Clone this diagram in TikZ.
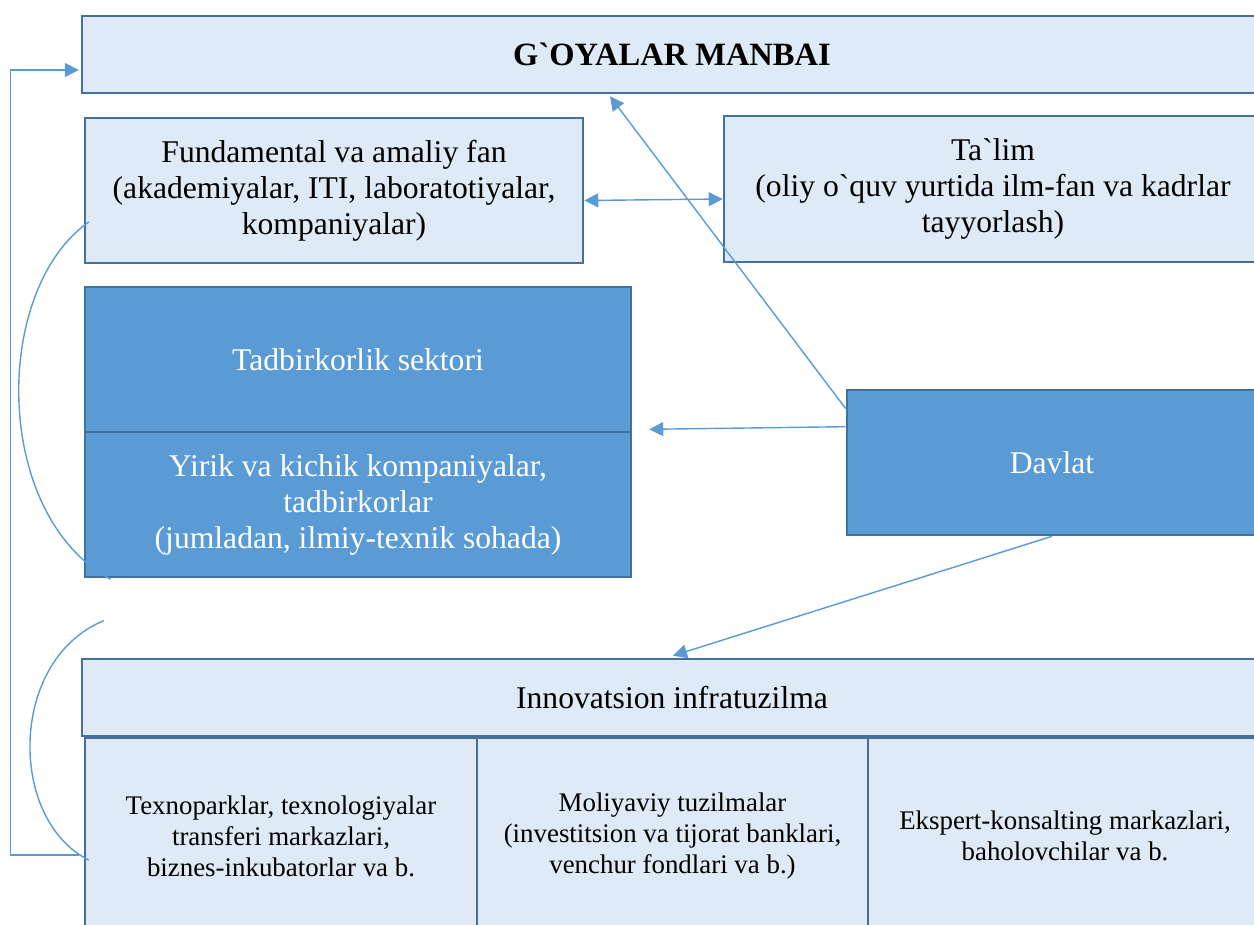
\documentclass[tikz,border=0pt]{standalone}
\usepackage{fontspec}
\setmainfont{Liberation Serif}[Ligatures = TeXOff]
\usetikzlibrary{arrows.meta, calc}

\definecolor{boxline}{HTML}{41719C}
\definecolor{lightfill}{HTML}{DEEAF6}
\definecolor{darkfill}{HTML}{5B9BD5}
\definecolor{arrowline}{HTML}{5B9BD5}

\tikzset{
	lightbox/.style = {draw = boxline, line width = 1.5pt, fill = lightfill,
		inner sep = 0pt, align = center, font = \fontsize{18}{20.5}\selectfont},
	darkbox/.style = {lightbox, fill = darkfill, text = white},
	smallbox/.style = {lightbox, font = \fontsize{15.3}{17.6}\selectfont},
	link/.style = {draw = arrowline, line width = 0.8pt},
	tip/.style = {link, -{Triangle[length = 0.28cm, width = 0.28cm]}},
	twotip/.style = {link, {Triangle[length = 0.28cm, width = 0.28cm]}-{Triangle[length = 0.28cm, width = 0.28cm]}}
}

\begin{document}
\begin{tikzpicture}[x = 0.02cm, y = -0.02cm]

	% Page frame
	
	\useasboundingbox (0, 0) rectangle (1254, 925);
	
	% Top boxes
	
	\node [lightbox, minimum width = 23.6cm, minimum height = 1.54cm, font = \fontsize{18.5}{20}\selectfont\bfseries]
		(goya) at (672, 54.5) {G`OYALAR MANBAI};
	\node [lightbox, minimum width = 9.96cm, minimum height = 2.9cm]
		(fan) at (334, 190.5) {Fundamental va amaliy fan\\(akademiyalar, ITI, laboratotiyalar,\\kompaniyalar)};
	\node [lightbox, minimum width = 10.76cm, minimum height = 2.92cm]
		(talim) at (993, 189) {Ta`lim\\(oliy o`quv yurtida ilm-fan va kadrlar\\tayyorlash)};
	
	% Business sector + state
	
	\node [darkbox, minimum width = 10.92cm, minimum height = 2.9cm]
		(tadbirtop) at (358, 359.5) {Tadbirkorlik sektori};
	\node [darkbox, minimum width = 10.92cm, minimum height = 2.9cm]
		(tadbirlow) at (358, 504.5) {Yirik va kichik kompaniyalar,\\tadbirkorlar\\(jumladan, ilmiy-texnik sohada)};
	\node [darkbox, minimum width = 8.2cm, minimum height = 2.9cm]
		(davlat) at (1052, 462.5) {Davlat};
	
	% Infrastructure
	
	\node [lightbox, minimum width = 23.6cm, minimum height = 1.54cm]
		(innov) at (672, 697.5) {Innovatsion infratuzilma};
	\node [smallbox, minimum width = 7.84cm, minimum height = 3.92cm]
		(texno) at (281, 836) {Texnoparklar, texnologiyalar\\transferi markazlari,\\biznes-inkubatorlar va b.};
	\node [smallbox, minimum width = 7.82cm, minimum height = 3.92cm]
		(moliya) at (672.5, 836) {Moliyaviy tuzilmalar\\(investitsion va tijorat banklari,\\venchur fondlari va b.)};
	\node [smallbox, minimum width = 7.88cm, minimum height = 3.92cm]
		(ekspert) at (1065, 836) {Ekspert-konsalting markazlari,\\baholovchilar va b.};
	
	% Arrows
	
	\draw [twotip] ($(fan.east) + (0, 10)$) -- ($(talim.west) + (0, 10)$);
	\draw [tip] ($(davlat.north west) + (0, 20)$) -- ($(goya.south) + (-62, 2)$);
	\draw [tip] ($(davlat.north west) + (0, 38)$) -- ($(tadbirtop.south east) + (17, -4)$);
	\draw [tip] (davlat.south) -- ($(innov.north) + (1, -2)$);
	\draw [tip] ($(texno.west) + (-5, 19)$) -- ++(-68, 0) |- ($(goya.west) + (-2, 15.5)$);
	
	% Side curves
	
	\draw [link] ($(fan.west) + (5, 31.5)$) .. controls (-8, 290) and (-8, 515) .. ($(tadbirlow.south west) + (27, 1)$);
	\draw [link] ($(innov.north west) + (23, -37)$) .. controls (8, 660) and (8, 820) .. ($(texno.west) + (5, 24)$);
	
\end{tikzpicture}
\end{document}
